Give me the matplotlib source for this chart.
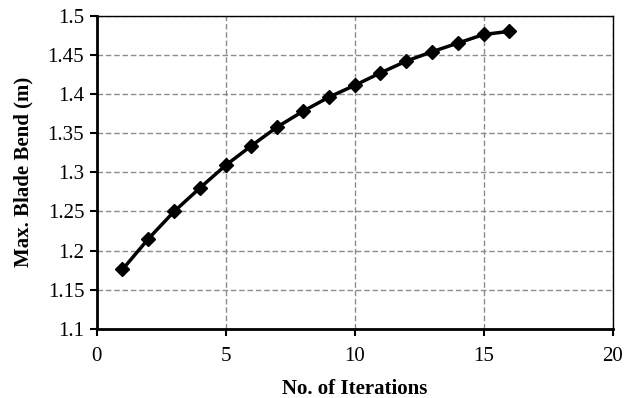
import matplotlib
matplotlib.use("Agg")
import matplotlib.pyplot as plt

plt.rcParams['font.family'] = ['Liberation Serif', 'DejaVu Serif']

iterations = [1, 2, 3, 4, 5, 6, 7, 8, 9, 10, 11, 12, 13, 14, 15, 16]
blade_bend = [1.176, 1.215, 1.250, 1.280, 1.309, 1.334, 1.358, 1.378,
              1.396, 1.411, 1.427, 1.442, 1.454, 1.465, 1.476, 1.480]

x_ticks = [0, 5, 10, 15, 20]
y_ticks = [1.1, 1.15, 1.2, 1.25, 1.3, 1.35, 1.4, 1.45, 1.5]
y_labels = ["1.1", "1.15", "1.2", "1.25", "1.3", "1.35", "1.4", "1.45", "1.5"]

fig = plt.figure(figsize=(6.34, 3.98), dpi=100)
ax = fig.add_axes([0.1525, 0.1734, 0.8139, 0.7872])

ax.plot(iterations, blade_bend, color="black", linewidth=2.5,
        marker="D", markersize=7.5, zorder=3)

ax.set_xlim(0, 20)
ax.set_ylim(1.1, 1.5)
ax.set_xticks(x_ticks)
ax.set_yticks(y_ticks)
ax.set_yticklabels(y_labels)

ax.grid(True, color="#8c8c8c", linestyle=(0, (4, 2)), linewidth=1.0)
ax.set_axisbelow(True)

ax.tick_params(direction="out", length=5, width=1.5, labelsize=15,
               colors="black", pad=4)
ax.tick_params(axis="x", pad=8)
ax.spines["left"].set_linewidth(2)
ax.spines["bottom"].set_linewidth(2)
ax.spines["top"].set_linewidth(1)
ax.spines["right"].set_linewidth(1)

ax.set_xlabel("No. of Iterations", fontsize=15, fontweight="bold", labelpad=9)
ax.set_ylabel("Max. Blade Bend (m)", fontsize=15, fontweight="bold", labelpad=10)

fig.savefig("out.png", dpi=100)
